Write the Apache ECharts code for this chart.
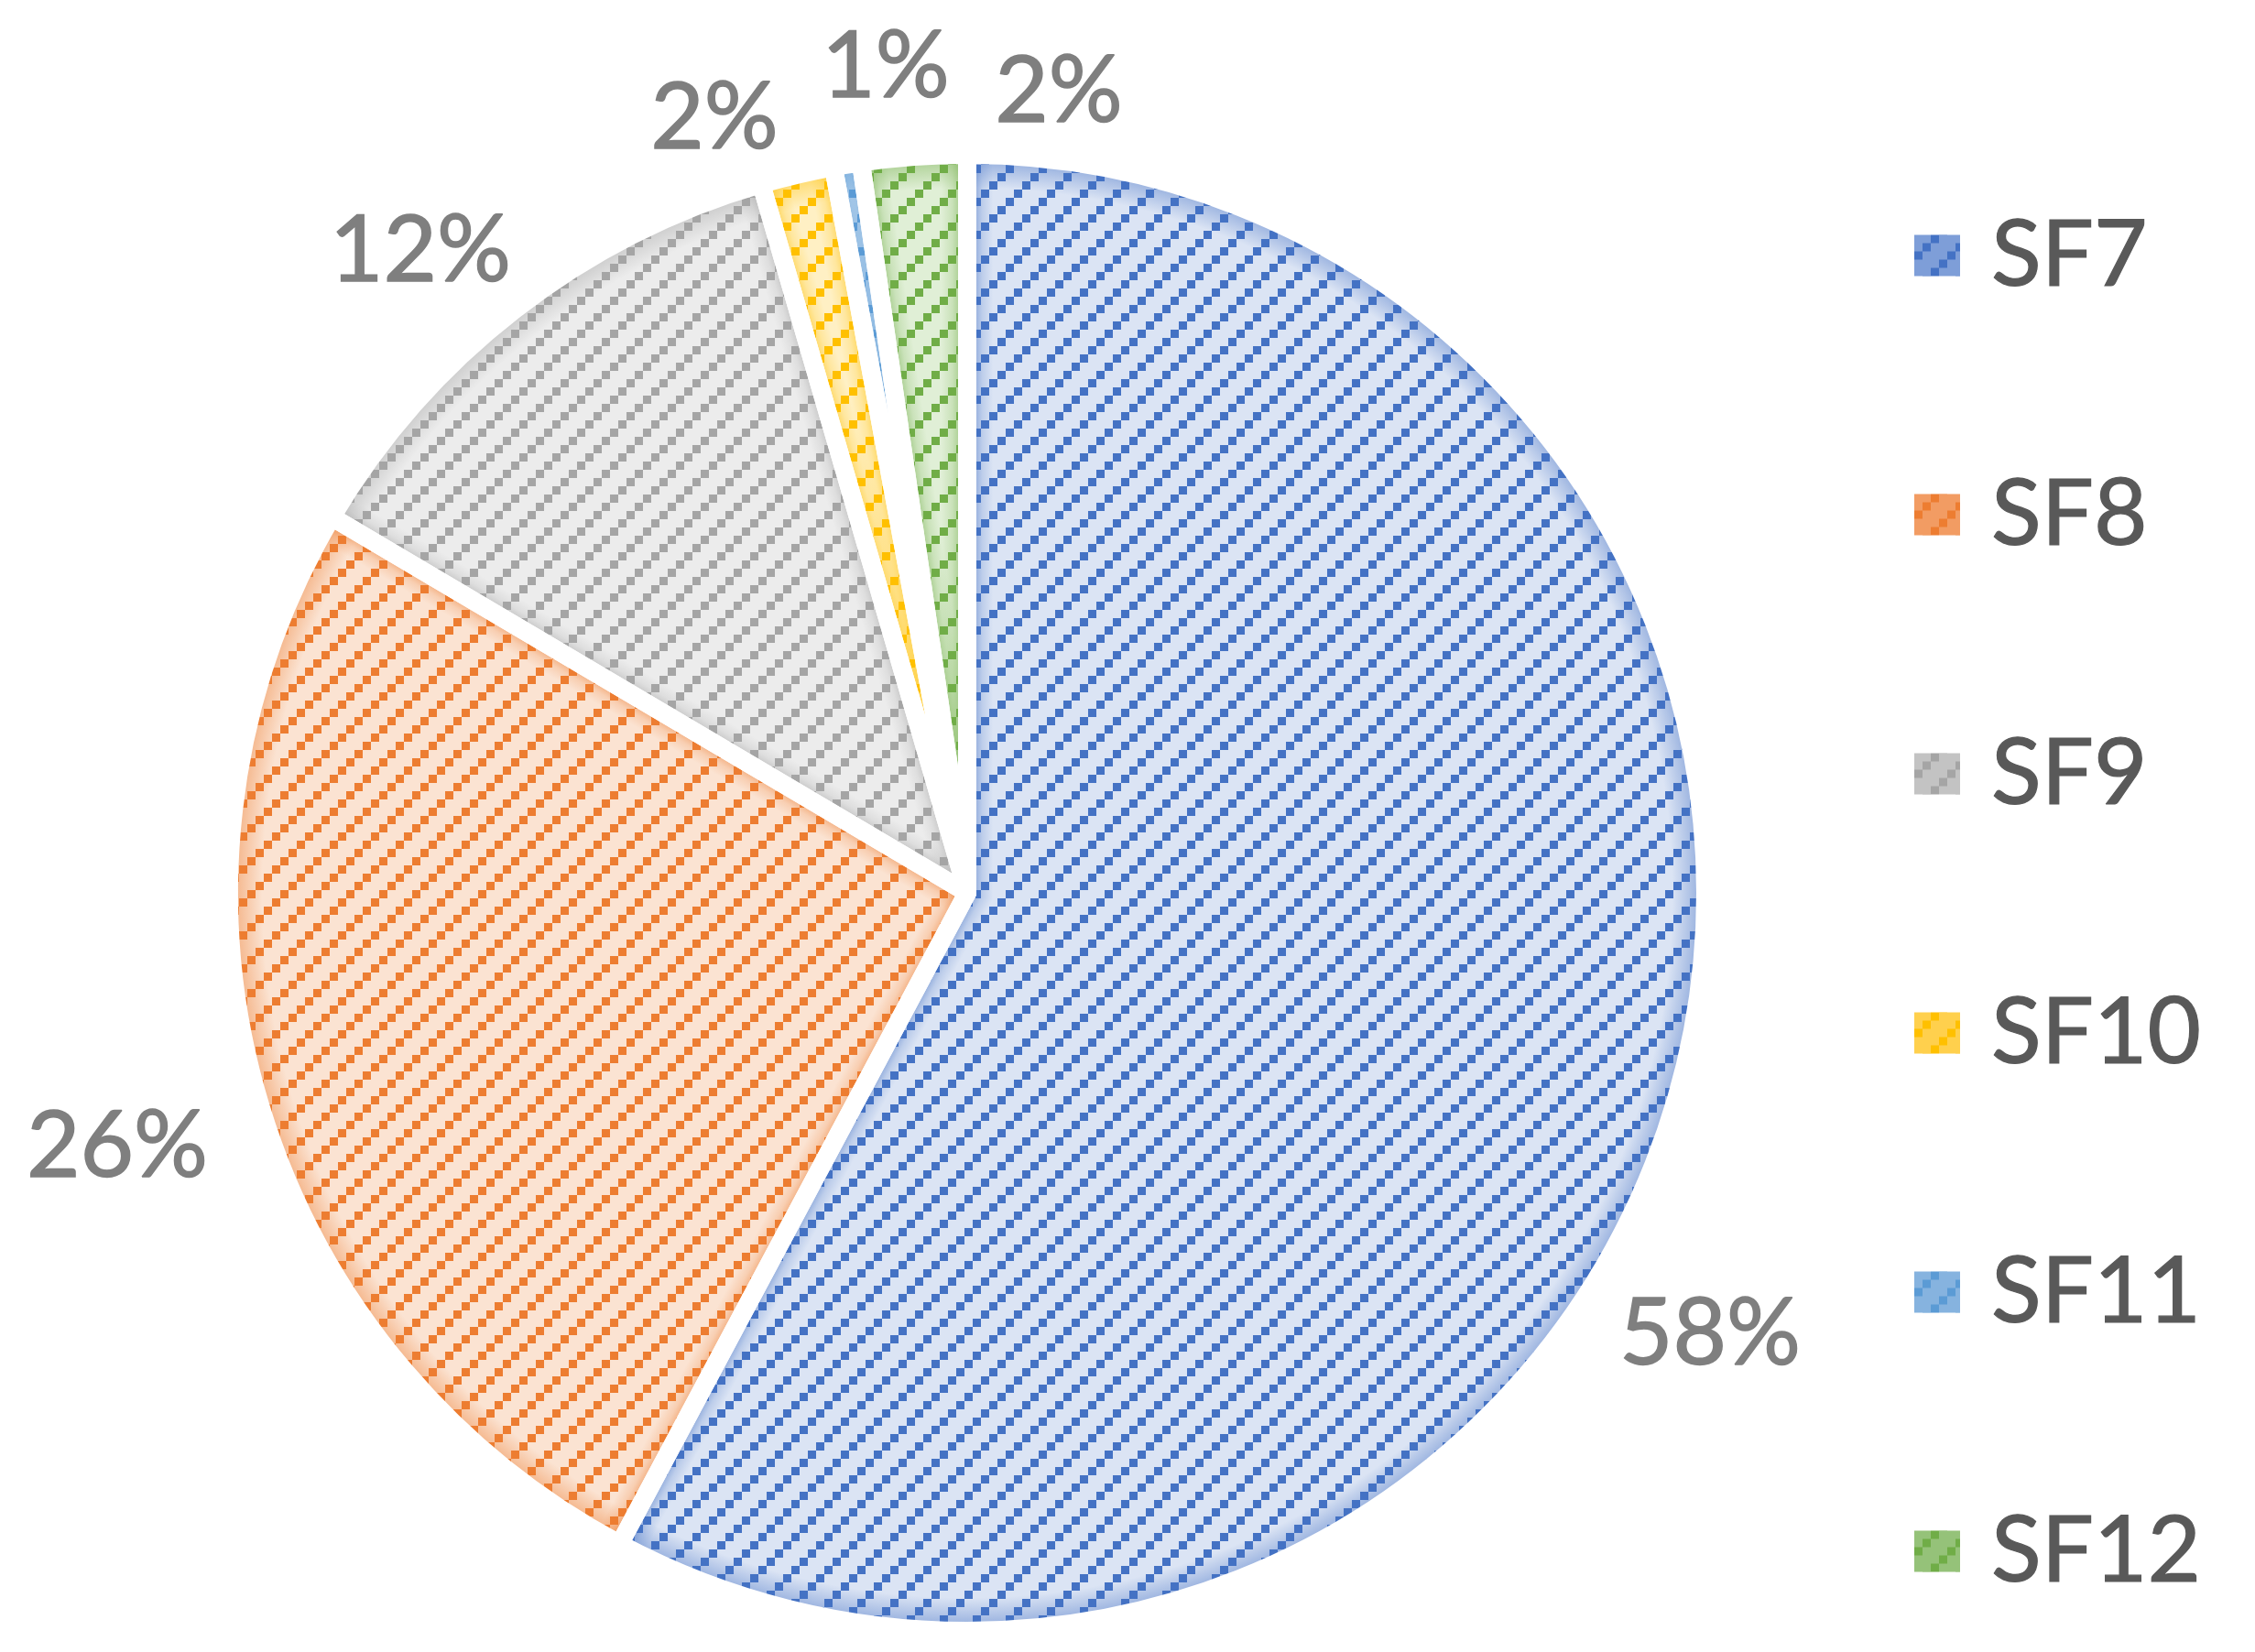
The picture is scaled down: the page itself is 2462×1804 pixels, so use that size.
<!DOCTYPE html>
<html>
<head>
<meta charset="utf-8">
<script src="https://cdn.jsdelivr.net/npm/echarts/dist/echarts.min.js"></script>
<style>
html,body{margin:0;padding:0;background:#ffffff;}
#chart{width:2462px;height:1804px;}
</style>
</head>
<body>
<div id="chart"></div>
<script>
// ---- data ----
const categories = ['SF7', 'SF8', 'SF9', 'SF10', 'SF11', 'SF12'];
const shares = [57.8, 25.7, 12.0, 1.6, 0.6, 2.3];

// ---- styles ----
const lightColors = ['#dbe4f4', '#fbe3d2', '#ececec', '#fff0c4', '#dde9f6', '#e0efd6'];
const markColors  = ['#4472c4', '#ed7d31', '#a5a5a5', '#ffc000', '#5b9bd5', '#70ad47'];
const legendFill  = ['#7e9ed8', '#f29c63', '#c3c3c3', '#ffd04d', '#86b3df', '#95c279'];
const labelPos = [[1867, 1457], [128, 1252], [459, 274], [780, 129], [967, 73], [1156, 100]];
const CX = 1056, CY = 975, R = 806, GAP = 20;

function hexToRgb(h){ h=h.replace('#',''); return [parseInt(h.substr(0,2),16),parseInt(h.substr(2,2),16),parseInt(h.substr(4,2),16)]; }
function mix(a,b,t){ const A=hexToRgb(a),B=hexToRgb(b); return 'rgb('+A.map((v,i)=>Math.round(v+(B[i]-v)*t)).join(',')+')'; }
function rgba(h,a){ const A=hexToRgb(h); return 'rgba('+A.join(',')+','+a+')'; }

function decalFor(color){
  return {
    symbol: 'rect', symbolSize: 1, color: color, backgroundColor: null, rotation: 0,
    dashArrayX: [[0, 27, 9, 0], [0, 18, 9, 9], [0, 9, 9, 18], [9, 27]],
    dashArrayY: [9, 0], maxTileWidth: 512, maxTileHeight: 512
  };
}

const pieData = categories.map((name, i) => ({
  name: name,
  value: shares[i],
  itemStyle: {
    color: {
      type: 'radial', x: CX, y: CY, r: R, global: true,
      colorStops: [
        {offset: 0, color: lightColors[i]},
        {offset: 0.955, color: lightColors[i]},
        {offset: 0.99, color: mix(lightColors[i], markColors[i], 0.42)},
        {offset: 1, color: mix(lightColors[i], markColors[i], 0.5)}
      ]
    },
    borderWidth: 0,
    decal: decalFor(markColors[i])
  }
}));

// soft darkening along the straight edges of each slice (overlay, derived from the same shares)
const total = shares.reduce((a, b) => a + b, 0);
const pieces = [];
let acc = 0;
shares.forEach((v, i) => {
  const ang = v / total * 360;
  const n = ang > 180 ? 2 : 1;
  for (let k = 0; k < n; k++) {
    pieces.push({cat: i, value: v / n, first: k === 0, last: k === n - 1, a0: acc, a1: acc + ang});
  }
  acc += ang;
});
function edgeGradient(phiDeg, sign, color){
  const p = phiDeg * Math.PI / 180;
  const nx = sign * Math.cos(p), ny = sign * Math.sin(p);
  const L = 44;
  return {
    type: 'linear', global: true,
    x: CX, y: CY, x2: CX + nx * L, y2: CY + ny * L,
    colorStops: [
      {offset: 0, color: rgba(color, 0.42)},
      {offset: (GAP / 2) / L, color: rgba(color, 0.42)},
      {offset: 0.37, color: rgba(color, 0.2)},
      {offset: 0.64, color: rgba(color, 0)},
      {offset: 1, color: rgba(color, 0)}
    ]
  };
}
const startEdgeData = pieces.map(pc => ({
  value: pc.value,
  itemStyle: {color: pc.first ? edgeGradient(pc.a0, 1, markColors[pc.cat]) : 'rgba(0,0,0,0)'}
}));
const endEdgeData = pieces.map(pc => ({
  value: pc.value,
  itemStyle: {color: pc.last ? edgeGradient(pc.a1, -1, markColors[pc.cat]) : 'rgba(0,0,0,0)'}
}));
const gapData = shares.map(v => ({value: v}));

const overlayBase = {
  type: 'pie',
  center: [CX, CY],
  radius: [0, R],
  startAngle: 90,
  clockwise: true,
  silent: true,
  emphasis: {disabled: true},
  label: {show: false},
  labelLine: {show: false},
  itemStyle: {borderWidth: 0}
};

const chart = echarts.init(document.getElementById('chart'), null, {renderer: 'canvas'});
chart.setOption({
  animation: false,
  backgroundColor: '#ffffff',
  legend: {
    orient: 'vertical',
    left: 2090,
    top: 214,
    padding: 0,
    itemWidth: 50,
    itemHeight: 45,
    itemGap: 153,
    icon: 'rect',
    selectedMode: false,
    data: categories.map((name, i) => ({
      name: name,
      itemStyle: {color: legendFill[i], borderWidth: 0}
    })),
    textStyle: {
      fontFamily: 'Lato', fontSize: 101, color: '#595959',
      textBorderColor: '#595959', textBorderWidth: 1.2,
      lineHeight: 110, padding: [0, 0, 20, 29]
    }
  },
  series: [{
    type: 'pie',
    center: [CX, CY],
    radius: [0, R],
    startAngle: 90,
    clockwise: true,
    silent: true,
    avoidLabelOverlap: false,
    emphasis: {disabled: true},
    data: pieData,
    label: {
      show: true,
      position: 'outside',
      fontFamily: 'Lato',
      fontSize: 101,
      color: '#7f7f7f',
      textBorderColor: '#7f7f7f',
      textBorderWidth: 1.5,
      formatter: p => Math.round(p.percent) + '%'
    },
    labelLine: {show: false},
    labelLayout: p => ({
      x: labelPos[p.dataIndex][0],
      y: labelPos[p.dataIndex][1],
      align: 'center',
      verticalAlign: 'middle'
    })
  },
  Object.assign({}, overlayBase, {data: startEdgeData}),
  Object.assign({}, overlayBase, {data: endEdgeData}),
  Object.assign({}, overlayBase, {
    data: gapData,
    itemStyle: {color: 'rgba(0,0,0,0)', borderColor: '#ffffff', borderWidth: GAP, borderJoin: 'round'}
  })
  ]
});
</script>
</body>
</html>
